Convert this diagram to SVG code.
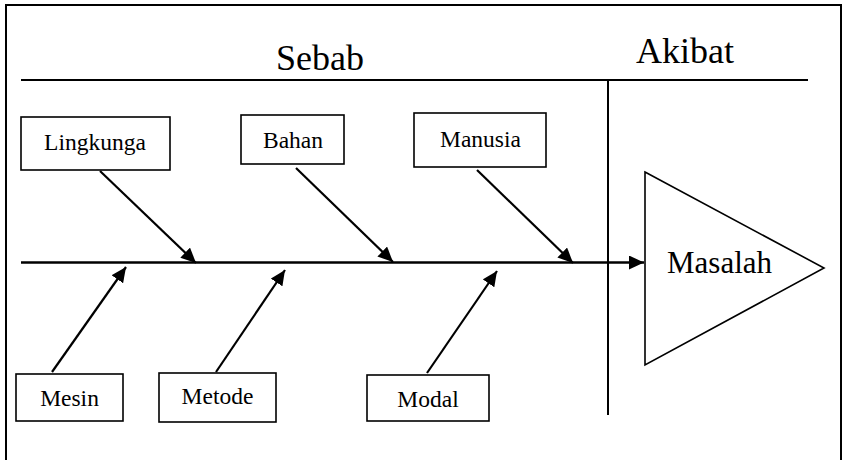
<svg xmlns="http://www.w3.org/2000/svg" width="847" height="460" viewBox="0 0 847 460">
<style>
  .box{fill:#fff;stroke:#000;stroke-width:1.6}
  .lbl{font-family:"Liberation Serif","Times New Roman",serif;font-size:23.5px;fill:#000;text-anchor:middle}
  .title{font-family:"Liberation Serif","Times New Roman",serif;font-size:36px;fill:#000}
  .ln{stroke:#000;stroke-width:2;fill:none}
  .arr{stroke:#000;stroke-width:2.2;fill:none;marker-end:url(#ah)}
</style>
<defs>
  <marker id="ah" markerUnits="userSpaceOnUse" markerWidth="16" markerHeight="14" refX="15" refY="7" orient="auto">
    <path d="M0,0 L15,7 L0,14 z" fill="#000"/>
  </marker>
</defs>
<rect width="847" height="460" fill="#fff"/>
<g id="frame">
  <path d="M6,462 L6,5 L841,5 L841,462" fill="none" stroke="#000" stroke-width="2"/>
  <line x1="21" y1="80" x2="808" y2="80" class="ln" stroke-width="1.8"/>
  <line x1="608" y1="80" x2="608" y2="415" class="ln" stroke-width="1.8"/>
  <text class="title" x="276" y="70">Sebab</text>
  <text class="title" x="636" y="63">Akibat</text>
</g>
<g id="connectors">
  <line x1="21" y1="262.5" x2="644" y2="262.5" stroke="#000" stroke-width="2.6" marker-end="url(#ah)"/>
  <line x1="100" y1="171" x2="196" y2="263" class="arr"/>
  <line x1="296" y1="168" x2="393" y2="262" class="arr"/>
  <line x1="477" y1="170" x2="573" y2="263" class="arr"/>
  <line x1="52" y1="372" x2="126" y2="267" class="arr"/>
  <line x1="216" y1="372" x2="285" y2="270" class="arr"/>
  <line x1="427" y1="373" x2="497" y2="271" class="arr"/>
</g>
<g id="lingkunga">
  <rect class="box" x="21" y="117" width="149" height="53"/>
  <text class="lbl" x="95" y="150">Lingkunga</text>
</g>
<g id="bahan">
  <rect class="box" x="241" y="115" width="103" height="49"/>
  <text class="lbl" x="293" y="148">Bahan</text>
</g>
<g id="manusia">
  <rect class="box" x="414" y="113" width="132" height="54"/>
  <text class="lbl" x="480.5" y="147">Manusia</text>
</g>
<g id="mesin">
  <rect class="box" x="16" y="374" width="107" height="47"/>
  <text class="lbl" x="69.5" y="406">Mesin</text>
</g>
<g id="metode">
  <rect class="box" x="159" y="373" width="117" height="49"/>
  <text class="lbl" x="217.5" y="404">Metode</text>
</g>
<g id="modal">
  <rect class="box" x="367" y="375" width="122" height="46"/>
  <text class="lbl" x="428" y="407">Modal</text>
</g>
<g id="masalah">
  <polygon points="645,172 824,268 645,365" fill="#fff" stroke="#000" stroke-width="1.6"/>
  <text x="667" y="273" font-family="Liberation Serif, Times New Roman, serif" font-size="31px">Masalah</text>
</g>
</svg>
